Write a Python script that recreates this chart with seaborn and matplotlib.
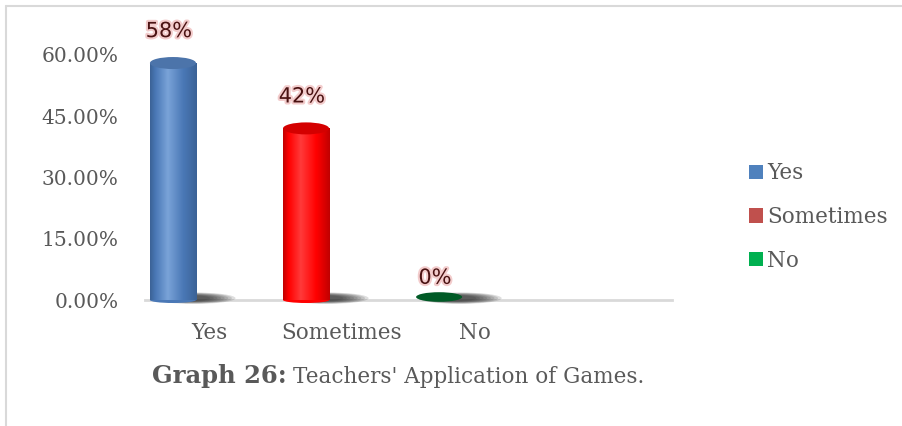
import numpy as np
import pandas as pd
import matplotlib
matplotlib.use("Agg")
import matplotlib.pyplot as plt
import matplotlib.patheffects as pe
from matplotlib.patches import Ellipse, Patch
from matplotlib.lines import Line2D
from matplotlib.colors import LinearSegmentedColormap
import matplotlib.transforms as mtransforms
import seaborn as sns

# ---- data ----
categories = ["Yes", "Sometimes", "No"]
shares = [0.58, 0.42, 0.00]
y_ticks = [0.00, 0.15, 0.30, 0.45, 0.60]

# ---- styling ----
body_colors = {"Yes": ("#3b6296", "#7aa3d8", "#4a78b6"),
               "Sometimes": ("#c00000", "#ff3a3a", "#ff0000"),
               "No": ("#004a1c", "#1a8a44", "#006428")}
cap_colors = {"Yes": "#4c74aa", "Sometimes": "#d40000", "No": "#005a26"}
legend_colors = {"Yes": "#4F81BD", "Sometimes": "#C0504D", "No": "#00B050"}
text_gray = "#595959"
serif = ["DejaVu Serif"]

sns.set_theme(style="white")
plt.rcParams["font.family"] = serif

W, H = 902, 426
fig = plt.figure(figsize=(W / 100, H / 100), dpi=100)
fig.patch.set_facecolor("white")

# axes: baseline at y=300px, left edge x=145px, right edge x=672px, top at 14px
ax = fig.add_axes([145 / W, (H - 300) / H, (672 - 145) / W, (300 - 14) / H])

df = pd.DataFrame({"category": categories, "share": shares})
sns.barplot(data=df, x="category", y="share", hue="category", order=categories,
            hue_order=categories, palette=[legend_colors[c] for c in categories],
            width=0.346, legend=False, ax=ax, saturation=1)

ax.set_xlim(-0.21, 3.75)
ax.set_ylim(0, 0.70)

# data units per pixel (vertical)
ypp = 0.70 / 286.0
cap_h = 12 * ypp

for patch, cat, val in zip(ax.patches, categories, shares):
    x0, w = patch.get_x(), patch.get_width()
    xc = x0 + w / 2
    h = patch.get_height()
    dark, light, mid = body_colors[cat]
    patch.set_alpha(0)

    # soft shadow to the lower right of the cylinder base
    n = 8
    for k in range(n):
        f = k / (n - 1)
        ax.add_patch(Ellipse((xc + 0.16 - 0.04 * f, cap_h * 0.15),
                             0.62 - 0.30 * f, cap_h * (0.95 - 0.45 * f),
                             color="#1a1a1a", alpha=0.14, lw=0, zorder=2.6,
                             clip_on=False))

    cmap = LinearSegmentedColormap.from_list(
        cat, [dark, mid, light, mid, dark], N=256)
    if h > 0:
        # slightly rounded bottom of the cylinder
        ax.add_patch(Ellipse((xc, 0), w, cap_h * 0.5, color=mid, lw=0, zorder=3,
                             clip_on=False))
        grad = np.linspace(0, 1, 256).reshape(1, -1)
        grad = np.interp(grad, [0, 0.12, 0.38, 0.75, 1.0], [0, 0.25, 0.5, 0.78, 1.0])
        img = ax.imshow(grad, cmap=cmap, aspect="auto", extent=(x0, x0 + w, 0, h),
                        zorder=3.2, interpolation="bilinear")
        body = plt.Rectangle((x0, 0), w, h, transform=ax.transData, fill=False, lw=0)
        ax.add_patch(body)
        img.set_clip_path(body)
        # top cap
        ax.add_patch(Ellipse((xc, h), w, cap_h, color=cap_colors[cat], lw=0,
                             zorder=4, clip_on=False))
        label_off = 23
    else:
        ax.add_patch(Ellipse((xc, h + cap_h * 0.25), w, cap_h * 0.8,
                             color=cap_colors[cat], lw=0, zorder=4, clip_on=False))
        label_off = 16

    ax.annotate(f"{val * 100:.0f}%", (xc, h), xytext=(-3, label_off),
                textcoords="offset points", ha="center", va="center",
                fontsize=15, color="#4a1212", family=["DejaVu Sans"],
                path_effects=[pe.withStroke(linewidth=3, foreground="#f3cccc")],
                zorder=6, annotation_clip=False)

# axes styling
ax.set_yticks(y_ticks)
ax.set_yticklabels([f"{t * 100:.2f}%" for t in y_ticks])
ax.tick_params(axis="y", length=0, pad=19, labelsize=14.5, labelcolor=text_gray)
ax.tick_params(axis="x", length=0, pad=16, labelsize=15.5, labelcolor=text_gray)
shift = mtransforms.ScaledTranslation(0.36, 0, fig.dpi_scale_trans)
for lbl in ax.get_xticklabels():
    lbl.set_transform(lbl.get_transform() + shift)
ax.set_xlabel("")
ax.set_ylabel("")
for side in ["top", "right", "left"]:
    ax.spines[side].set_visible(False)
ax.spines["bottom"].set_color("#d9d9d9")
ax.spines["bottom"].set_linewidth(2)
ax.grid(False)
ax.set_facecolor("none")

# legend
handles = [Patch(facecolor=legend_colors[c], edgecolor="none", label=c) for c in categories]
leg = fig.legend(handles=handles, loc="center left",
                 bbox_to_anchor=(740 / W, (H - 217) / H), frameon=False,
                 fontsize=15.5, handlelength=0.65, handleheight=0.65,
                 handletextpad=0.2, labelspacing=1.0, borderaxespad=0)
for t in leg.get_texts():
    t.set_color(text_gray)

# caption below the chart
fig.canvas.draw()
renderer = fig.canvas.get_renderer()
t1 = fig.text(152 / W, (H - 383) / H, "Graph 26:", fontsize=17.5, fontweight="bold",
              color=text_gray, ha="left", va="baseline")
bb = t1.get_window_extent(renderer)
fig.text((bb.x1 + 6) / W, (H - 383) / H, "Teachers' Application of Games.",
         fontsize=15.5, color=text_gray, ha="left", va="baseline")

# light border along the top and left of the chart area
fig.add_artist(Line2D([5.5 / W, 5.5 / W], [0, (H - 6) / H], color="#d9d9d9", lw=1.5))
fig.add_artist(Line2D([5.5 / W, 1], [(H - 6) / H, (H - 6) / H], color="#d9d9d9", lw=1.5))

fig.savefig("out.png", dpi=100, facecolor="white")
